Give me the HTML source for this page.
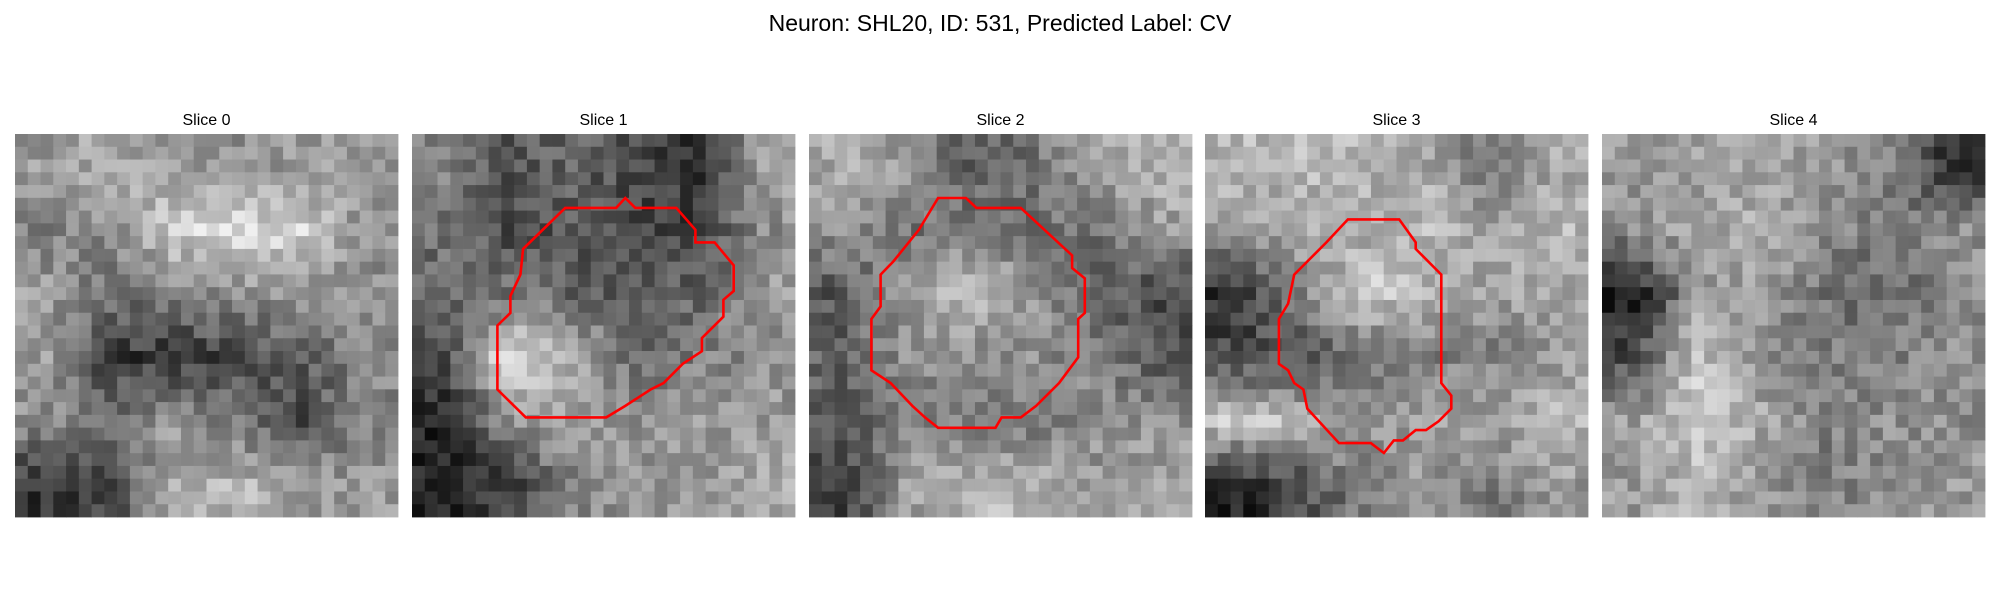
<!DOCTYPE html>
<html><head><meta charset="utf-8"><style>
html,body{margin:0;padding:0;background:#fff;}
body{width:2000px;height:600px;position:relative;overflow:hidden;font-family:"Liberation Sans","DejaVu Sans",sans-serif;}
</style></head><body>
<svg id="fig" width="2000" height="600" xmlns="http://www.w3.org/2000/svg">
<text x="1000" y="31" text-anchor="middle" font-size="23" fill="#000">Neuron: SHL20, ID: 531, Predicted Label: CV</text>
</svg>
<script>
// Coarse brightness grids (6x6) per slice
const slice0 = [[150,160,150,140,150,150],[130,140,190,200,190,140],[150,120,130,140,150,140],[150,80,70,90,100,140],[140,120,150,120,90,130],[70,90,160,170,150,150]];
const slice1 = [[130,100,110,90,70,160],[120,90,100,90,80,140],[110,120,110,100,110,150],[90,200,170,110,130,140],[60,140,150,140,150,150],[60,80,130,150,150,160]];
const slice2 = [[160,150,100,120,150,170],[140,120,130,120,120,150],[100,150,170,150,110,90],[110,140,140,140,130,100],[100,130,130,120,140,140],[80,150,170,170,150,160]];
const slice3 = [[170,170,170,160,120,160],[150,160,160,170,160,170],[70,130,190,170,150,160],[90,100,110,130,130,150],[180,170,150,150,160,170],[60,90,130,150,120,150]];
const slice4 = [[150,150,160,150,130,70],[140,160,160,140,120,140],[50,150,150,120,110,140],[90,180,140,130,130,140],[150,190,160,130,140,140],[150,170,150,130,140,150]];
const slices = [slice0, slice1, slice2, slice3, slice4];
const titles = ["Slice 0","Slice 1","Slice 2","Slice 3","Slice 4"];
const contour1 = [[0.40,0.193],[0.533,0.193],[0.557,0.167],[0.583,0.193],[0.69,0.193],[0.74,0.25],[0.74,0.283],[0.79,0.283],[0.84,0.343],[0.84,0.41],[0.813,0.433],[0.813,0.477],[0.757,0.533],[0.757,0.567],[0.707,0.6],[0.657,0.65],[0.623,0.667],[0.557,0.71],[0.507,0.74],[0.297,0.74],[0.223,0.667],[0.223,0.5],[0.257,0.467],[0.257,0.423],[0.283,0.367],[0.29,0.3]];
const contour2 = [[0.337,0.167],[0.41,0.167],[0.437,0.193],[0.553,0.193],[0.687,0.317],[0.687,0.35],[0.72,0.377],[0.72,0.467],[0.703,0.483],[0.703,0.583],[0.653,0.65],[0.593,0.71],[0.553,0.74],[0.503,0.74],[0.487,0.767],[0.337,0.767],[0.303,0.74],[0.27,0.71],[0.213,0.65],[0.163,0.617],[0.163,0.483],[0.187,0.45],[0.187,0.367],[0.22,0.333],[0.287,0.25]];
const contour3 = [[0.373,0.223],[0.507,0.223],[0.55,0.283],[0.55,0.3],[0.617,0.367],[0.617,0.65],[0.643,0.683],[0.643,0.717],[0.61,0.75],[0.577,0.773],[0.55,0.773],[0.517,0.8],[0.493,0.8],[0.467,0.833],[0.433,0.807],[0.35,0.807],[0.267,0.717],[0.257,0.667],[0.233,0.65],[0.217,0.617],[0.193,0.6],[0.193,0.483],[0.217,0.443],[0.233,0.367],[0.267,0.333],[0.317,0.283]];
const contours = [null, contour1, contour2, contour3, null];

const NS = "http://www.w3.org/2000/svg";
const svg = document.getElementById('fig');
const panelX = [15, 412, 809, 1205, 1602];
const panelY = 134, panelS = 383, N = 30;

function sample(g, u, v){
  const fx = Math.min(Math.max(u*6-0.5,0),5), fy = Math.min(Math.max(v*6-0.5,0),5);
  const x0 = Math.floor(fx), y0 = Math.floor(fy), x1 = Math.min(x0+1,5), y1 = Math.min(y0+1,5);
  const tx = fx-x0, ty = fy-y0;
  return (g[y0][x0]*(1-tx)+g[y0][x1]*tx)*(1-ty) + (g[y1][x0]*(1-tx)+g[y1][x1]*tx)*ty;
}
function texture(r, c, k){
  let h = (r*73856093) ^ (c*19349663) ^ (k*83492791);
  h = (h ^ (h >>> 13)) * 1274126177;
  h = h ^ (h >>> 16);
  return ((h >>> 0) % 61) - 30;
}
slices.forEach((g, k) => {
  const grp = document.createElementNS(NS, 'g');
  
  
  svg.appendChild(grp);
  const cs = panelS / N;
  for (let r = 0; r < N; r++) for (let c = 0; c < N; c++) {
    let val = sample(g, (c+0.5)/N, (r+0.5)/N);
    val = 135 + (val - 135) * 1.35 + texture(r, c, k);
    val = Math.max(10, Math.min(240, Math.round(val)));
    const rect = document.createElementNS(NS, 'rect');
    rect.setAttribute('x', (panelX[k] + c*cs).toFixed(2));
    rect.setAttribute('y', (panelY + r*cs).toFixed(2));
    rect.setAttribute('width', (cs+0.4).toFixed(2));
    rect.setAttribute('height', (cs+0.4).toFixed(2));
    rect.setAttribute('fill', `rgb(${val},${val},${val})`);
    
    
    grp.appendChild(rect);
  }
  const t = document.createElementNS(NS, 'text');
  t.setAttribute('x', panelX[k] + panelS/2);
  t.setAttribute('y', 125);
  t.setAttribute('text-anchor', 'middle');
  t.setAttribute('font-size', '16');
  t.textContent = titles[k];
  
  
  svg.appendChild(t);
  const ct = contours[k];
  if (ct) {
    const p = document.createElementNS(NS, 'polygon');
    p.setAttribute('points', ct.map(q => (panelX[k] + q[0]*panelS).toFixed(1) + ',' + (panelY + q[1]*panelS).toFixed(1)).join(' '));
    p.setAttribute('fill', 'none');
    p.setAttribute('stroke', '#ff0000');
    p.setAttribute('stroke-width', '2.6');
    
    
    svg.appendChild(p);
  }
});
</script>
</body></html>
